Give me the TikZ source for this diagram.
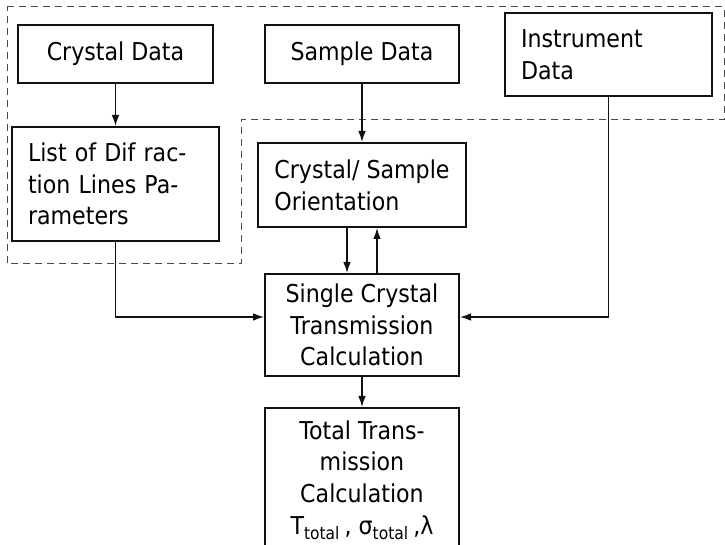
\documentclass[tikz,border=0pt]{standalone}
\usepackage{fontspec}
\setmainfont[FakeStretch=0.9]{DejaVu Sans}
\usetikzlibrary{arrows.meta}
\definecolor{InkBlack}{HTML}{111111}
\definecolor{FrameGray}{HTML}{4A4A4A}
\tikzset{
  databox/.style={rectangle, draw=InkBlack, line width=1pt, fill=white,
                inner sep=0pt, align=center,
                font=\fontsize{12.3}{15.9}\selectfont},
  leftbox/.style={databox, align=left, inner xsep=8pt},
  flowarrow/.style={-{Latex[length=5.5pt,width=3.8pt]}, line width=0.65pt, InkBlack},
  groupframe/.style={dash pattern=on 3.5pt off 2.5pt, line width=0.5pt, FrameGray},
}

\begin{document}
\begin{tikzpicture}[x=0.5pt, y=-0.5pt]
    % Coordinate map (y grows downward):
    % (crystal)    at (115.5, 54)  -- "Crystal Data"
    % (sample)     at (362, 54)    -- "Sample Data"
    % (instrument) at (608.5, 54.5) -- "Instrument Data"
    % (difflist)   at (115.5, 184) -- diffraction line list
    % (orient)     at (362, 185)   -- "Crystal/ Sample Orientation"
    % (calc)       at (362, 325)   -- single crystal calculation
    % (total)      at (362, 480)   -- total transmission, runs off the bottom
    \clip (0,0) rectangle (725,545);

    % input group
    \draw[groupframe] (7,7) -- (724,7) -- (724,120) -- (241,120)
        -- (241,264) -- (7,264) -- cycle;

    \node[databox, minimum width=97.5pt, minimum height=29pt] (crystal) at (115.5, 54) {Crystal Data};
    \node[databox, minimum width=97pt, minimum height=29pt] (sample) at (362, 54) {Sample Data};
    \node[leftbox, text width=87.5pt, minimum height=41.5pt] (instrument) at (608.5, 54.5) {Instrument\\Data};
    \node[leftbox, text width=87.5pt, minimum height=57pt] (difflist) at (115.5, 184) {List of Dif rac-\\tion Lines Pa-\\rameters};
    \node[leftbox, minimum width=103.5pt, minimum height=42pt] (orient) at (362, 185) {Crystal/ Sample\\Orientation};
    \node[databox, minimum width=97pt, minimum height=51pt] (calc) at (362, 325) {Single Crystal\\Transmission\\Calculation};
    \node[databox, minimum width=97pt, minimum height=72pt] (total) at (362, 480) {Total Trans-\\mission\\Calculation\\T\textsubscript{total}\,, σ\textsubscript{total}\,,λ};

    \draw[flowarrow] (crystal) -- (difflist);
    \draw[flowarrow] (sample) -- (orient);
    \draw[flowarrow] ([xshift=-7.5pt]orient.south) -- ([xshift=-7.5pt]calc.north);
    \draw[flowarrow] ([xshift=7.5pt]calc.north) -- ([xshift=7.5pt]orient.south);
    \draw[flowarrow] (difflist.south) |- ([yshift=4pt]calc.west);
    \draw[flowarrow] (instrument.south) |- ([yshift=4pt]calc.east);
    \draw[flowarrow] (calc) -- (total);
\end{tikzpicture}
\end{document}
